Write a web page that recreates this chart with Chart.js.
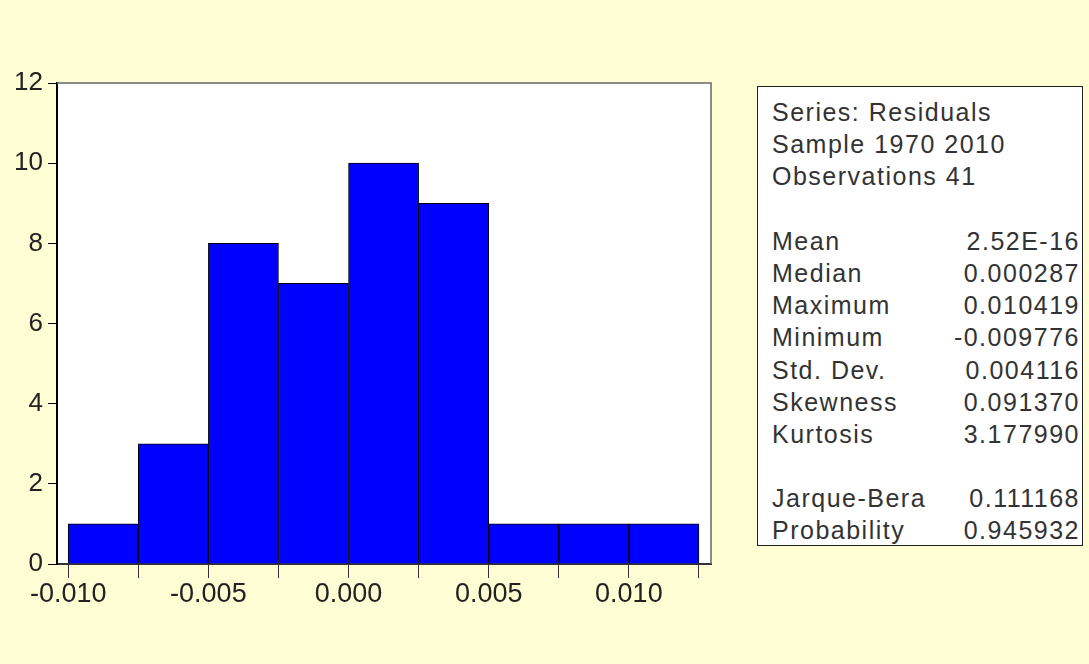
<!DOCTYPE html>
<html>
<head>
<meta charset="utf-8">
<script src="https://cdn.jsdelivr.net/npm/chart.js@4"></script>
<style>
    body { margin: 0; background: #FFFDD3; overflow: hidden; }
    #wrap { position: relative; width: 1089px; height: 664px; }
    #histChart { position: absolute; left: 0; top: 0; }
    #stats {
        position: absolute;
        left: 757px; top: 86px;
        width: 326px; height: 460px;
        box-sizing: border-box;
        border: 1.5px solid #222;
        background: #FFFFFF;
        padding: 9px 2px 0 14px;
        font-family: "Liberation Sans", Arial, sans-serif;
        font-size: 25px;
        letter-spacing: 1.5px;
        color: #333;
    }
    .row { display: flex; justify-content: space-between; height: 32.2px; line-height: 32.2px; white-space: nowrap; }
</style>
</head>
<body>
<div id="wrap">
    <canvas id="histChart" width="1089" height="664"></canvas>
    <div id="stats"></div>
</div>
<script>
// Histogram bins (centres) and counts
const binCenters = [-0.00875, -0.00625, -0.00375, -0.00125, 0.00125, 0.00375, 0.00625, 0.00875, 0.01125];
const counts = [1, 3, 8, 7, 10, 9, 1, 1, 1];

// Axis ticks
const xTickValues = [-0.01, -0.0075, -0.005, -0.0025, 0, 0.0025, 0.005, 0.0075, 0.01, 0.0125];
const xTickLabels = ['-0.010', '', '-0.005', '', '0.000', '', '0.005', '', '0.010', ''];
const yTickValues = [0, 2, 4, 6, 8, 10, 12];

// Descriptive statistics box
const headerLines = ['Series: Residuals', 'Sample 1970 2010', 'Observations 41'];
const statNames = ['Mean', 'Median', 'Maximum', 'Minimum', 'Std. Dev.', 'Skewness', 'Kurtosis'];
const statValues = ['2.52E-16', '0.000287', '0.010419', '-0.009776', '0.004116', '0.091370', '3.177990'];
const testNames = ['Jarque-Bera', 'Probability'];
const testValues = ['0.111168', '0.945932'];

function buildStats() {
    const box = document.getElementById('stats');
    let html = '';
    headerLines.forEach(line => {
        html += `<div class="row"><span>${line}</span></div>`;
    });
    html += '<div class="row"></div>';
    statNames.forEach((name, i) => {
        html += `<div class="row"><span>${name}</span><span>${statValues[i]}</span></div>`;
    });
    html += '<div class="row"></div>';
    testNames.forEach((name, i) => {
        html += `<div class="row"><span>${name}</span><span>${testValues[i]}</span></div>`;
    });
    box.innerHTML = html;
}

// white plot area + top/right frame lines
const framePlugin = {
    id: 'frame',
    beforeDraw(chart) {
        const a = chart.chartArea;
        const ctx = chart.ctx;
        ctx.save();
        ctx.fillStyle = '#FFFFFF';
        ctx.fillRect(a.left, a.top, a.right - a.left, a.bottom - a.top);
        ctx.restore();
    },
    afterDraw(chart) {
        const a = chart.chartArea;
        const ctx = chart.ctx;
        ctx.save();
        ctx.strokeStyle = '#666';
        ctx.lineWidth = 1.5;
        ctx.beginPath();
        ctx.moveTo(a.left, a.top);
        ctx.lineTo(a.right, a.top);
        ctx.lineTo(a.right, a.bottom);
        ctx.stroke();
        ctx.restore();
    }
};

const tickFont = { family: '"Liberation Sans", Arial, sans-serif', size: 26 };

document.addEventListener('DOMContentLoaded', function() {
    buildStats();

    const ctx = document.getElementById('histChart').getContext('2d');
    new Chart(ctx, {
        type: 'bar',
        data: {
            datasets: [{
                data: binCenters.map((x, i) => ({ x: x, y: counts[i] })),
                backgroundColor: '#0000FF',
                borderColor: '#000000',
                borderWidth: 1,
                barPercentage: 1,
                categoryPercentage: 1
            }]
        },
        options: {
            responsive: false,
            animation: false,
            layout: { padding: { left: 0, top: 83, right: 378, bottom: 0 } },
            plugins: {
                legend: { display: false },
                tooltip: { enabled: false }
            },
            scales: {
                x: {
                    type: 'linear',
                    offset: false,
                    min: -0.0104,
                    max: 0.01293,
                    afterBuildTicks: function(scale) {
                        scale.ticks = xTickValues.map(v => ({ value: v }));
                    },
                    afterFit: function(scale) { scale.height = 100; },
                    grid: {
                        display: true,
                        offset: false,
                        drawOnChartArea: false,
                        tickLength: 14,
                        tickColor: '#333',
                        tickWidth: 1
                    },
                    border: { display: true, color: '#333', width: 2 },
                    ticks: {
                        autoSkip: false,
                        maxRotation: 0,
                        padding: 0,
                        color: '#222',
                        font: { family: tickFont.family, size: 27 },
                        callback: function(value, index) {
                            return xTickLabels[index];
                        }
                    }
                },
                y: {
                    min: 0,
                    max: 12,
                    afterBuildTicks: function(scale) {
                        scale.ticks = yTickValues.map(v => ({ value: v }));
                    },
                    afterFit: function(scale) { scale.width = 57; },
                    grid: {
                        display: true,
                        drawOnChartArea: false,
                        tickLength: 9,
                        tickColor: '#000',
                        tickWidth: 1
                    },
                    border: { display: true, color: '#000', width: 2 },
                    ticks: {
                        padding: 5,
                        color: '#222',
                        font: tickFont
                    }
                }
            }
        },
        plugins: [framePlugin]
    });
});
</script>
</body>
</html>
